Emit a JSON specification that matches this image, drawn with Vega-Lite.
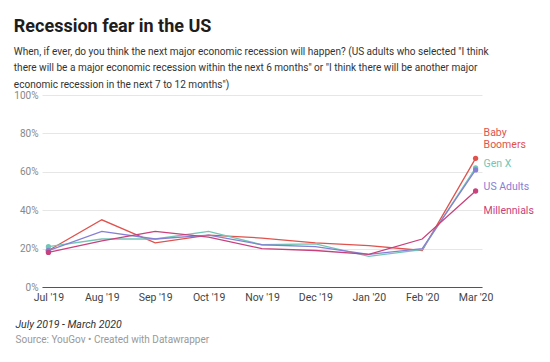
{
  "$schema": "https://vega.github.io/schema/vega-lite/v6.json",
  "autosize": {"type": "none"},
  "width": 440,
  "height": 192,
  "padding": {"left": 42, "top": 95, "right": 68, "bottom": 75},
  "background": "#ffffff",
  "config": {
    "font": "Roboto",
    "view": {"stroke": null}
  },
  "title": {
    "text": "Recession fear in the US",
    "subtitle": [
      "When, if ever, do you think the next major economic recession will happen? (US adults who selected \"I think",
      "there will be a major economic recession within the next 6 months\" or \"I think there will be another major",
      "economic recession in the next 7 to 12 months\")"
    ],
    "anchor": "start",
    "frame": "bounds",
    "font": "Roboto",
    "fontSize": 18,
    "fontWeight": "bold",
    "color": "#1d1d1d",
    "subtitleFont": "Roboto",
    "subtitleFontSize": 10.05,
    "subtitleColor": "#333333",
    "subtitleLineHeight": 16.5,
    "subtitlePadding": 11,
    "offset": 0
  },
  "datasets": {
    "main": [
      {"month": "Jul '19", "series": "Baby Boomers", "value": 19},
      {"month": "Aug '19", "series": "Baby Boomers", "value": 35},
      {"month": "Sep '19", "series": "Baby Boomers", "value": 23},
      {"month": "Oct '19", "series": "Baby Boomers", "value": 27},
      {"month": "Nov '19", "series": "Baby Boomers", "value": 25.5},
      {"month": "Dec '19", "series": "Baby Boomers", "value": 23},
      {"month": "Jan '20", "series": "Baby Boomers", "value": 21.5},
      {"month": "Feb '20", "series": "Baby Boomers", "value": 19},
      {"month": "Mar '20", "series": "Baby Boomers", "value": 67},
      {"month": "Jul '19", "series": "Gen X", "value": 21},
      {"month": "Aug '19", "series": "Gen X", "value": 25},
      {"month": "Sep '19", "series": "Gen X", "value": 25},
      {"month": "Oct '19", "series": "Gen X", "value": 29},
      {"month": "Nov '19", "series": "Gen X", "value": 22},
      {"month": "Dec '19", "series": "Gen X", "value": 22.5},
      {"month": "Jan '20", "series": "Gen X", "value": 16},
      {"month": "Feb '20", "series": "Gen X", "value": 19.5},
      {"month": "Mar '20", "series": "Gen X", "value": 62},
      {"month": "Jul '19", "series": "US Adults", "value": 19},
      {"month": "Aug '19", "series": "US Adults", "value": 29},
      {"month": "Sep '19", "series": "US Adults", "value": 25},
      {"month": "Oct '19", "series": "US Adults", "value": 27},
      {"month": "Nov '19", "series": "US Adults", "value": 22},
      {"month": "Dec '19", "series": "US Adults", "value": 21},
      {"month": "Jan '20", "series": "US Adults", "value": 17},
      {"month": "Feb '20", "series": "US Adults", "value": 20},
      {"month": "Mar '20", "series": "US Adults", "value": 61},
      {"month": "Jul '19", "series": "Millennials", "value": 18},
      {"month": "Aug '19", "series": "Millennials", "value": 24},
      {"month": "Sep '19", "series": "Millennials", "value": 29},
      {"month": "Oct '19", "series": "Millennials", "value": 26},
      {"month": "Nov '19", "series": "Millennials", "value": 20},
      {"month": "Dec '19", "series": "Millennials", "value": 19},
      {"month": "Jan '20", "series": "Millennials", "value": 17},
      {"month": "Feb '20", "series": "Millennials", "value": 25},
      {"month": "Mar '20", "series": "Millennials", "value": 50}
    ],
    "labels": [
      {"month": "Mar '20", "series": "Baby Boomers", "label": "Baby\nBoomers", "label_pos": 80},
      {"month": "Mar '20", "series": "Gen X", "label": "Gen X", "label_pos": 64},
      {"month": "Mar '20", "series": "US Adults", "label": "US Adults", "label_pos": 52},
      {"month": "Mar '20", "series": "Millennials", "label": "Millennials", "label_pos": 39.5}
    ]
  },
  "encoding": {
    "x": {
      "field": "month",
      "type": "ordinal",
      "sort": ["Jul '19", "Aug '19", "Sep '19", "Oct '19", "Nov '19", "Dec '19", "Jan '20", "Feb '20", "Mar '20"],
      "scale": {"type": "point", "padding": 0.12},
      "axis": {
        "title": "July 2019 - March 2020",
        "titleFont": "Roboto",
        "titleFontSize": 10.5,
        "titleFontStyle": "italic",
        "titleFontWeight": "normal",
        "titleColor": "#333333",
        "titleX": -27,
        "titleY": 40,
        "titleAlign": "left",
        "titleAnchor": "start",
        "titleBaseline": "alphabetic",
        "labelAngle": 0,
        "labelFont": "Roboto",
        "labelFontSize": 10.5,
        "labelColor": "#444444",
        "labelPadding": 5,
        "ticks": false,
        "domainColor": "#555555",
        "domainWidth": 1,
        "grid": false
      }
    },
    "y": {
      "field": "value",
      "type": "quantitative",
      "scale": {"domain": [0, 100]},
      "axis": {
        "values": [0, 20, 40, 60, 80, 100],
        "tickCount": 6,
        "labelExpr": "datum.value + '%'",
        "labelOverlap": false,
        "labelFlush": false,
        "labelBound": false,
        "labelFont": "Roboto",
        "labelFontSize": 10,
        "labelColor": "#888888",
        "labelPadding": 4,
        "ticks": false,
        "domain": false,
        "gridColor": "#e6e6e6",
        "gridWidth": 1,
        "title": "Source: YouGov • Created with Datawrapper",
        "titleAngle": 0,
        "titleFont": "Roboto",
        "titleFontSize": 10,
        "titleFontWeight": "normal",
        "titleColor": "#999999",
        "titleX": -27,
        "titleY": 247,
        "titleAlign": "left",
        "titleBaseline": "alphabetic"
      }
    },
    "color": {
      "field": "series",
      "type": "nominal",
      "scale": {
        "domain": ["Baby Boomers", "Gen X", "US Adults", "Millennials"],
        "range": ["#e0524c", "#72c6b6", "#8680d4", "#c8417c"]
      },
      "legend": null
    }
  },
  "layer": [
    {
      "data": {"name": "main"},
      "mark": {"type": "line", "strokeWidth": 1.3}
    },
    {
      "data": {"name": "main"},
      "transform": [{"filter": {"field": "month", "oneOf": ["Jul '19", "Mar '20"]}}],
      "mark": {"type": "point", "filled": true, "opacity": 1, "size": 28}
    },
    {
      "data": {"name": "labels"},
      "mark": {"type": "text", "align": "left", "baseline": "middle", "dx": 8, "fontSize": 10.5, "lineBreak": "\n", "lineHeight": 12, "font": "Roboto"},
      "encoding": {
        "y": {"field": "label_pos", "type": "quantitative"},
        "text": {"field": "label"}
      }
    }
  ]
}
